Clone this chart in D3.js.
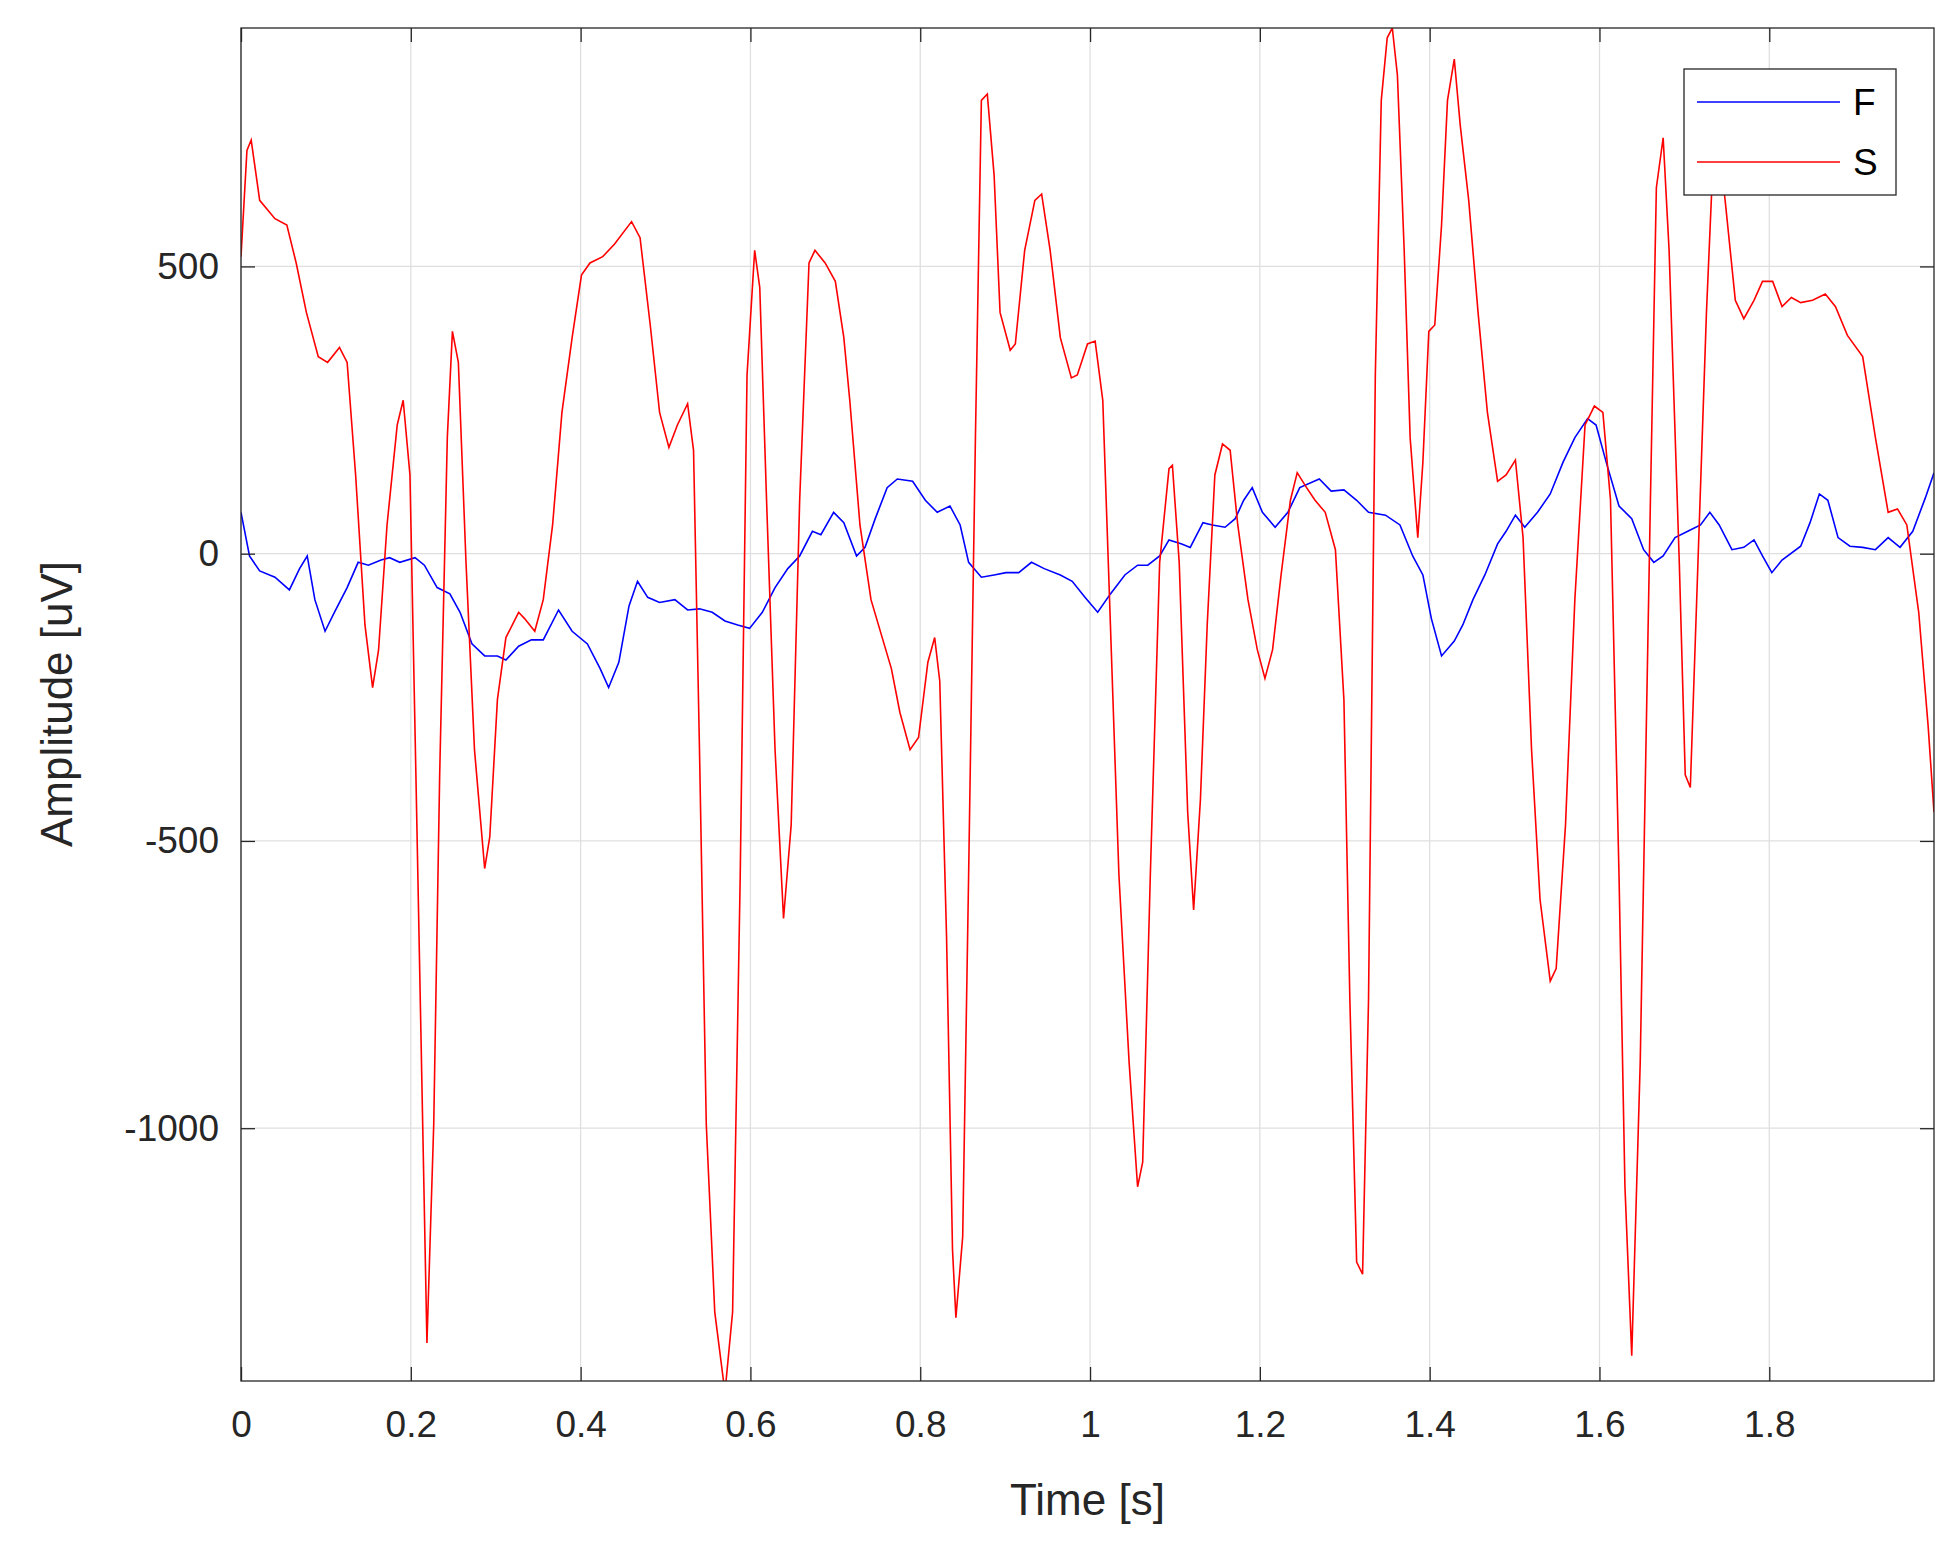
<!DOCTYPE html>
<html><head><meta charset="utf-8">
<script src="https://cdn.jsdelivr.net/npm/d3@7"></script>
<style>body{margin:0;background:#fff;}svg{display:block;font-family:"Liberation Sans",Arial,sans-serif;}</style>
</head><body>
<script>
const xTicks=[0,0.2,0.4,0.6,0.8,1,1.2,1.4,1.6,1.8];
const xTickLabels=["0","0.2","0.4","0.6","0.8","1","1.2","1.4","1.6","1.8"];
const yTicks=[-1000,-500,0,500];
const yTickLabels=["-1000","-500","0","500"];
const seriesNames=["F","S"];
const timeS=[0,.007,.012,.022,.040,.054,.065,.077,.091,.102,.116,.125,.135,.146,.155,.162,.172,.184,.191,.199,.206,.214,.219,.227,.234,.243,.249,.256,.265,.275,.287,.293,.302,.312,.327,.334,.346,.356,.367,.378,.390,.401,.411,.426,.440,.460,.470,.482,.493,.504,.514,.526,.533,.540,.548,.558,.570,.579,.588,.596,.605,.611,.619,.629,.639,.648,.658,.669,.676,.688,.700,.710,.717,.729,.742,.766,.776,.788,.798,.809,.817,.823,.831,.838,.842,.850,.857,.865,.872,.879,.887,.894,.906,.912,.923,.935,.943,.953,.965,.978,.985,.997,1.006,1.015,1.024,1.034,1.046,1.056,1.062,1.071,1.082,1.093,1.097,1.105,1.115,1.122,1.130,1.138,1.147,1.156,1.165,1.174,1.186,1.197,1.206,1.215,1.225,1.236,1.244,1.255,1.265,1.277,1.289,1.299,1.306,1.314,1.321,1.328,1.336,1.343,1.350,1.356,1.362,1.370,1.377,1.386,1.392,1.399,1.406,1.414,1.421,1.429,1.436,1.446,1.457,1.468,1.480,1.490,1.501,1.510,1.520,1.530,1.542,1.549,1.560,1.571,1.583,1.594,1.604,1.613,1.623,1.630,1.638,1.648,1.660,1.667,1.675,1.682,1.694,1.701,1.707,1.716,1.726,1.733,1.741,1.748,1.760,1.770,1.782,1.792,1.804,1.815,1.826,1.837,1.851,1.866,1.878,1.892,1.910,1.925,1.940,1.951,1.962,1.976,1.987,1.994];
const valS=[517,702,720,615,583,572,506,420,343,333,359,333,137,-124,-233,-168,50,224,267,137,-385,-993,-1374,-993,-385,202,387,333,-15,-341,-548,-493,-254,-146,-102,-113,-135,-80,50,246,376,485,506,517,539,578,550,398,246,185,224,261,180,-341,-993,-1320,-1460,-1320,-559,311,528,463,93,-341,-635,-472,93,506,528,506,474,376,267,50,-80,-200,-276,-341,-320,-189,-146,-222,-667,-1211,-1330,-1189,-559,202,789,800,659,420,354,365,528,615,626,528,376,306,311,365,370,267,-124,-559,-885,-1102,-1059,-559,-15,148,154,-15,-450,-620,-428,-124,137,191,180,50,-80,-167,-217,-167,-37,93,141,115,93,72,7,-254,-776,-1233,-1254,-776,311,789,898,915,833,528,202,28,159,387,398,572,789,861,746,615,420,246,126,137,163,28,-341,-602,-744,-722,-472,-80,224,257,246,93,-559,-1102,-1396,-885,93,637,724,528,-15,-385,-407,-15,420,659,702,615,441,409,441,474,474,430,446,437,441,452,430,380,343,202,72,78,50,-102,-298,-450];
const timeF=[0,.010,.022,.040,.057,.069,.078,.087,.099,.110,.125,.138,.150,.165,.175,.187,.205,.216,.231,.246,.258,.272,.287,.302,.312,.327,.342,.356,.374,.390,.408,.423,.433,.445,.457,.467,.479,.493,.511,.526,.540,.555,.570,.585,.599,.614,.629,.644,.658,.673,.683,.698,.710,.725,.735,.747,.761,.773,.791,.806,.820,.835,.847,.857,.872,.887,.901,.916,.931,.946,.965,.979,.994,1.009,1.024,1.041,1.056,1.068,1.082,1.093,1.108,1.118,1.133,1.144,1.159,1.171,1.181,1.191,1.203,1.218,1.233,1.247,1.270,1.284,1.299,1.314,1.328,1.348,1.365,1.380,1.392,1.402,1.414,1.429,1.439,1.451,1.465,1.480,1.490,1.501,1.512,1.527,1.542,1.557,1.571,1.586,1.596,1.608,1.623,1.638,1.652,1.664,1.675,1.689,1.704,1.719,1.730,1.741,1.756,1.770,1.782,1.792,1.803,1.815,1.837,1.848,1.859,1.869,1.881,1.895,1.910,1.925,1.940,1.954,1.969,1.984,1.994];
const valF=[72,-4,-30,-41,-63,-26,-4,-80,-135,-102,-59,-15,-20,-11,-7,-15,-7,-20,-59,-70,-102,-157,-178,-178,-185,-161,-150,-150,-98,-135,-157,-200,-233,-189,-91,-48,-76,-85,-80,-98,-96,-102,-117,-124,-130,-102,-59,-26,-4,39,33,72,54,-4,11,61,115,130,126,93,72,83,50,-15,-41,-37,-33,-33,-15,-26,-37,-48,-76,-102,-70,-37,-20,-20,-4,24,17,11,54,50,46,61,93,115,72,46,72,115,130,109,111,93,72,67,50,-4,-37,-113,-178,-152,-124,-80,-37,17,39,67,46,72,104,159,202,235,224,159,83,61,7,-15,-4,28,39,50,72,50,7,11,24,-4,-33,-11,13,54,104,93,28,13,11,7,28,11,39,98,141];
const xDomain=[0,1.994], yDomain=[-1440,915];

const W=1952,H=1552, L=241,R=1934,T=28,B=1381;
const svg=d3.select("body").append("svg").attr("width",W).attr("height",H);
const x=d3.scaleLinear().domain(xDomain).range([L,R]);
const y=d3.scaleLinear().domain(yDomain).range([B,T]);
const txt="#262626", grid="#dfdfdf";
// grid
svg.append("g").selectAll("line").data(xTicks).join("line").attr("x1",d=>x(d)).attr("x2",d=>x(d)).attr("y1",T).attr("y2",B).attr("stroke",grid).attr("stroke-width",1.3);
svg.append("g").selectAll("line").data(yTicks).join("line").attr("y1",d=>y(d)).attr("y2",d=>y(d)).attr("x1",L).attr("x2",R).attr("stroke",grid).attr("stroke-width",1.3);
// lines
svg.append("defs").append("clipPath").attr("id","c").append("rect").attr("x",L).attr("y",T).attr("width",R-L).attr("height",B-T);
const line=d3.line().x(d=>x(d[0])).y(d=>y(d[1]));
const g=svg.append("g").attr("clip-path","url(#c)");
g.append("path").datum(timeF.map((t,i)=>[t,valF[i]])).attr("d",line).attr("fill","none").attr("stroke","#0000ff").attr("stroke-width",1.6);
g.append("path").datum(timeS.map((t,i)=>[t,valS[i]])).attr("d",line).attr("fill","none").attr("stroke","#ff0000").attr("stroke-width",1.6);
// axes
const fs=37;
const ax=svg.append("g").attr("transform",`translate(0,${B})`).call(d3.axisBottom(x).tickValues(xTicks).tickFormat((d,i)=>xTickLabels[i]).tickSizeInner(-14).tickSizeOuter(0).tickPadding(30));
const axT=svg.append("g").attr("transform",`translate(0,${T})`).call(d3.axisTop(x).tickValues(xTicks).tickFormat("").tickSizeInner(-14).tickSizeOuter(0));
const ay=svg.append("g").attr("transform",`translate(${L},0)`).call(d3.axisLeft(y).tickValues(yTicks).tickFormat((d,i)=>yTickLabels[i]).tickSizeInner(-14).tickSizeOuter(0).tickPadding(22));
const ayR=svg.append("g").attr("transform",`translate(${R},0)`).call(d3.axisRight(y).tickValues(yTicks).tickFormat("").tickSizeInner(-14).tickSizeOuter(0));
[ax,axT,ay,ayR].forEach(a=>{a.select(".domain").remove();a.selectAll("line").attr("stroke",txt).attr("stroke-width",1.3);a.selectAll("text").attr("fill",txt).style("font-size",fs+"px");});
svg.append("rect").attr("x",L).attr("y",T).attr("width",R-L).attr("height",B-T).attr("fill","none").attr("stroke",txt).attr("stroke-width",1.3);
// titles
svg.append("text").attr("x",(L+R)/2).attr("y",1515).attr("text-anchor","middle").attr("fill",txt).style("font-size","44px").text("Time [s]");
svg.append("text").attr("transform","translate(72,704) rotate(-90)").attr("text-anchor","middle").attr("fill",txt).style("font-size","44px").text("Amplitude [uV]");
// legend
const lg=svg.append("g");
lg.append("rect").attr("x",1684).attr("y",69).attr("width",212).attr("height",126).attr("fill","#fff").attr("stroke",txt).attr("stroke-width",1.3);
const cols=["#0000ff","#ff0000"], ly=[102,162];
seriesNames.forEach((n,i)=>{
 lg.append("line").attr("x1",1697).attr("x2",1840).attr("y1",ly[i]).attr("y2",ly[i]).attr("stroke",cols[i]).attr("stroke-width",1.6);
 lg.append("text").attr("x",1853).attr("y",ly[i]+13).attr("fill","#000").style("font-size","37px").text(n);
});
</script>
</body></html>
